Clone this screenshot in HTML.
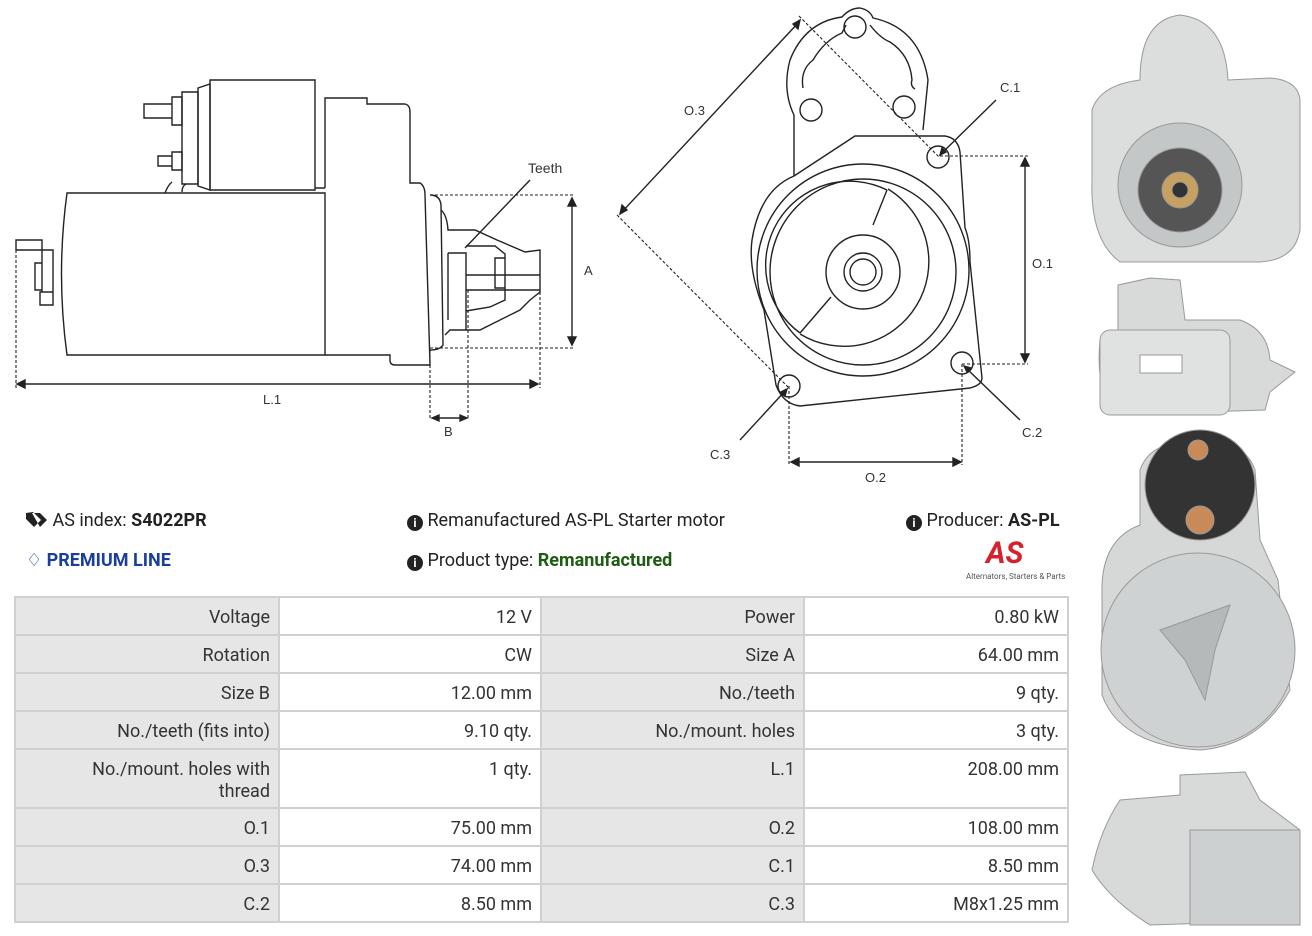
<!DOCTYPE html>
<html><head><meta charset="utf-8"><style>
body{margin:0;background:#fff;width:1312px;height:936px;position:relative;overflow:hidden;font-family:"Roboto","Liberation Sans",sans-serif;color:#222}
.t{position:absolute;font-size:18px;white-space:nowrap}
table{position:absolute;left:14px;top:596px;border-collapse:collapse;table-layout:fixed;width:1053px;font-size:18px;color:#333}
td{border:2px solid #d0d0d0;padding:9px 8px 0 8px;text-align:right;vertical-align:top;height:27px;line-height:22px}
td.l{background:#e6e6e6}
</style></head><body>
<svg width="1312" height="936" style="position:absolute;left:0;top:0" fill="none" stroke="#222" stroke-width="1.4" font-family="Liberation Sans, sans-serif" font-size="13">
<!-- left side view -->
<path d="M67 193 L325 193 L325 355 L67 355 Q56 274 67 193Z"/>
<path d="M325 188 L325 98 L367 98 L367 104 L405 104 Q410 105 410 112 L410 183 L420 183 Q425 186 425 195 L430 365 L395 365 Q390 365 390 360 L390 355 L325 355"/>
<path d="M210 80 L315 80 L315 190 L210 190 Z"/><path d="M198 88 L210 84 L210 190 L198 186Z"/><path d="M182 92 L198 92 L198 184 L182 184Z"/>
<path d="M172 97 L182 97 L182 125 L172 125Z M144 104 L172 104 L172 118 L144 118Z"/>
<path d="M172 152 L182 152 L182 170 L172 170Z M158 156 L172 156 L172 166 L158 166Z"/>
<path d="M165 193 Q168 185 172 182 M182 192 Q182 186 186 184 M315 188 L325 188"/>
<path d="M42 250 L53 250 L53 292 L42 292Z M16 240 L42 240 L42 250 L16 250Z M35 263 L42 263 L42 290 L35 290Z M40 292 L53 292 L53 305 L40 305Z"/>
<path d="M430 195 Q440 195 441 205 L443 345 Q440 350 430 350"/>
<path d="M441 210 Q447 215 448 230 L475 230 L497 240 L525 252 L540 250 L540 292 L530 300 L520 310 L480 330 L450 330 L445 335"/>
<path d="M448 253 L466 253 L466 330 M466 246 L495 246 L505 254 L505 300 L490 307 L466 311 M466 290 L540 290 M466 275 L540 275 M495 258 L505 258 L505 288 L495 288 Z M448 253 L448 320"/>
<g stroke-dasharray="3,2" stroke-width="1.1"><path d="M430 195 L575 195 M430 348 L575 348 M16 250 L16 388 M540 292 L540 388 M430 350 L430 420 M468 290 L468 420"/></g>
<path d="M572 200 L572 343 M17 384 L538 384 M433 418 L466 418 M465 248 L530 180"/>
<path d="M572 198 l-4 8 h8z M572 345 l-4 -8 h8z M17 384 l8 -4 v8z M538 384 l-8 -4 v8z M432 418 l7 -3 v6z M467 418 l-7 -3 v6z" fill="#222"/>
<text x="528" y="173" fill="#333" stroke="none" font-size="14">Teeth</text>
<text x="584" y="275" fill="#333" stroke="none">A</text>
<text x="263" y="404" fill="#333" stroke="none">L.1</text>
<text x="444" y="436" fill="#333" stroke="none">B</text>
<!-- front view -->
<path d="M794 176 L794 115 Q782 90 790 60 Q805 22 842 17 Q850 8 860 8 Q870 10 873 18 Q920 28 928 80 L923 130"/>
<path d="M803 88 Q800 70 813 60 Q825 40 842 33 L846 25 M870 25 Q880 38 890 42 Q910 55 912 80 Q910 86 915 89"/>
<circle cx="855" cy="27" r="11"/><circle cx="811" cy="110" r="11"/><circle cx="904" cy="107" r="11"/>
<path d="M794 176 L855 136 L945 136 Q958 138 960 152 L965 228 Q970 240 970 262 L982 378 Q982 385 970 388 L800 406 Q783 404 776 385 L764 310 Q748 270 752 240 Q760 190 794 176Z"/>
<circle cx="863" cy="270" r="106"/><circle cx="863" cy="272" r="93"/>
<path d="M887 190 A84 84 0 0 0 800 333" /><path d="M887 190 L873 225 M831 297 L800 333"/>
<path d="M888 189 A84 84 0 1 1 800 334"/>
<circle cx="863" cy="272" r="37"/><circle cx="863" cy="272" r="19"/><circle cx="863" cy="272" r="13"/>
<circle cx="938" cy="157" r="11"/><circle cx="962" cy="363" r="11"/><circle cx="789" cy="386" r="11"/>
<g stroke-dasharray="3,2" stroke-width="1.1"><path d="M799 16 L940 158 M617 215 L789 388 M940 156 L1028 156 M962 364 L1028 364 M789 386 L789 465 M962 364 L962 465"/></g>
<path d="M621 213 L799 22 M1025 160 L1025 360 M792 462 L960 462 M942 153 L996 100 M966 368 L1020 420 M786 390 L740 440"/>
<path d="M800 20 l-2 9 -5 -5z M620 214 l2 -9 5 5z M1025 158 l-4 8 h8z M1025 362 l-4 -8 h8z M791 462 l8 -4 v8z M961 462 l-8 -4 v8z M940 155 l2 -7 4 4z M964 366 l7 2 -4 4z M787 389 l-2 7 -4 -4z" fill="#222"/>
<g fill="#333" stroke="none"><text x="684" y="115">O.3</text><text x="1000" y="92">C.1</text><text x="1032" y="268">O.1</text><text x="1022" y="437">C.2</text><text x="710" y="459">C.3</text><text x="865" y="482">O.2</text></g>
<!-- photos -->
<g stroke="#999" stroke-width="1">
<path d="M1140 80 Q1140 20 1180 15 Q1225 20 1228 80 L1270 78 Q1298 80 1300 100 L1300 230 Q1295 260 1260 262 L1120 262 Q1090 240 1092 180 L1092 110 Q1100 85 1140 80Z" fill="#dcdede"/>
<circle cx="1180" cy="185" r="62" fill="#c4c7c7"/><circle cx="1180" cy="190" r="42" fill="#555"/><circle cx="1180" cy="190" r="18" fill="#c8a060"/><circle cx="1180" cy="190" r="8" fill="#333"/>
<path d="M1118 285 L1150 278 L1180 280 L1185 320 L1240 320 Q1268 330 1270 360 L1295 372 L1270 392 L1265 410 L1110 415 Q1096 380 1100 340 L1118 330Z" fill="#d8dada"/>
<rect x="1100" y="330" width="130" height="85" rx="10" fill="#e0e2e2"/><rect x="1140" y="355" width="42" height="18" fill="#fff"/>
<path d="M1102 595 Q1100 540 1140 525 L1140 470 Q1150 440 1200 440 Q1245 440 1255 470 L1260 540 L1278 580 L1290 690 Q1260 745 1200 750 Q1120 745 1102 695Z" fill="#d6d8d8"/>
<circle cx="1200" cy="485" r="55" fill="#333"/><circle cx="1198" cy="450" r="10" fill="#c98a5a"/><circle cx="1200" cy="520" r="14" fill="#c98a5a"/>
<circle cx="1198" cy="650" r="97" fill="#cfd2d2"/><path d="M1160 630 L1230 605 L1215 650 L1205 700 L1185 660Z" fill="#b5b9b9"/>
<path d="M1120 800 L1180 795 L1180 775 L1245 772 L1260 800 L1300 830 L1300 920 L1150 925 Q1110 900 1092 870 Q1100 830 1120 800Z" fill="#d8dada"/>
<rect x="1190" y="830" width="110" height="95" fill="#cdd0d0"/>
</g>
</svg>
<div class="t" style="left:26px;top:510px"><svg width="22" height="18" viewBox="0 0 22 18" style="vertical-align:-3px"><path d="M0 2 L0 8 L8 16 L15 9 L7 1Z M6 2 L14 2 L21 9 L14 16" fill="#222"/></svg> AS index: <b>S4022PR</b></div>
<div class="t" style="left:26px;top:550px;color:#1a3e9e;font-weight:bold"><span style="font-weight:normal">&#9826;</span> PREMIUM LINE</div>
<div class="t" style="left:407px;top:510px"><span style="display:inline-block;width:16px;height:16px;border-radius:50%;background:#222;color:#fff;font-size:12px;text-align:center;line-height:16px;font-weight:bold;vertical-align:-1px">i</span> Remanufactured AS-PL Starter motor</div>
<div class="t" style="left:407px;top:550px"><span style="display:inline-block;width:16px;height:16px;border-radius:50%;background:#222;color:#fff;font-size:12px;text-align:center;line-height:16px;font-weight:bold;vertical-align:-1px">i</span> Product type: <b style="color:#1d5c12">Remanufactured</b></div>
<div class="t" style="left:906px;top:510px"><span style="display:inline-block;width:16px;height:16px;border-radius:50%;background:#222;color:#fff;font-size:12px;text-align:center;line-height:16px;font-weight:bold;vertical-align:-1px">i</span> Producer: <b>AS-PL</b></div>
<div class="t" style="left:986px;top:536px;color:#d8202a;font-weight:bold;font-style:italic;font-size:30px">AS</div>
<div class="t" style="left:966px;top:572px;font-size:8px;color:#555">Alternators, Starters &amp; Parts</div>
<table>
<colgroup><col style="width:264px"><col style="width:262px"><col style="width:263px"><col style="width:264px"></colgroup>
<tr><td class="l">Voltage</td><td>12 V</td><td class="l">Power</td><td>0.80 kW</td></tr>
<tr><td class="l">Rotation</td><td>CW</td><td class="l">Size A</td><td>64.00 mm</td></tr>
<tr><td class="l">Size B</td><td>12.00 mm</td><td class="l">No./teeth</td><td>9 qty.</td></tr>
<tr><td class="l">No./teeth (fits into)</td><td>9.10 qty.</td><td class="l">No./mount. holes</td><td>3 qty.</td></tr>
<tr><td class="l" style="height:48px">No./mount. holes with<br>thread</td><td>1 qty.</td><td class="l">L.1</td><td>208.00 mm</td></tr>
<tr><td class="l">O.1</td><td>75.00 mm</td><td class="l">O.2</td><td>108.00 mm</td></tr>
<tr><td class="l">O.3</td><td>74.00 mm</td><td class="l">C.1</td><td>8.50 mm</td></tr>
<tr><td class="l">C.2</td><td>8.50 mm</td><td class="l">C.3</td><td>M8x1.25 mm</td></tr>
</table>
</body></html>
